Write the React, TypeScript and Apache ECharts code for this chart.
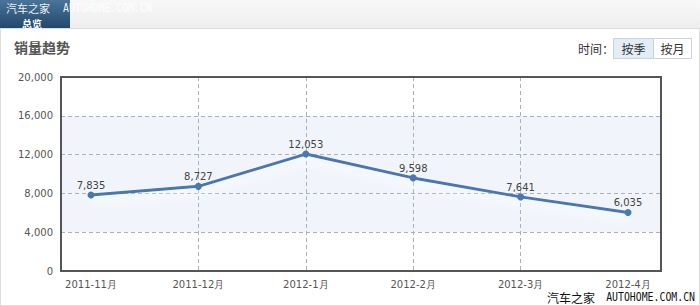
import React, { useEffect, useRef } from "react";
import * as echarts from "echarts";

const categories = ["2011-11月", "2011-12月", "2012-1月", "2012-2月", "2012-3月", "2012-4月"];
const sales = [7835, 8727, 12053, 9598, 7641, 6035];
const yMin = 0;
const yMax = 20000;
const yInterval = 4000;
const title = "销量趋势";
const tabText = "总览";
const watermarkCn = "汽车之家";
const watermarkEn = "AUTOHOME.COM.CN";
const timeLabel = "时间：";
const buttons = ["按季", "按月"];

const fmt = (v: number) => v.toLocaleString("en-US");
const LABEL_FONT = "'DejaVu Sans', Verdana, sans-serif";
const CJK = "'Noto Sans CJK SC', sans-serif";
const MONO = "'DejaVu Sans Mono', 'Liberation Mono', monospace";

export default function App() {
  const ref = useRef<HTMLDivElement>(null);
  useEffect(() => {
    const chart = echarts.init(ref.current!, null, { renderer: "svg" });
    const dashed = { color: "#a7b1c0", type: [4, 3], width: 1 };
    chart.setOption({
      animation: false,
      backgroundColor: "#ffffff",
      grid: [
        { left: 61, top: 77, width: 600, height: 194, show: true, borderWidth: 0, backgroundColor: "#ffffff" },
        { left: 91, top: 77, width: 537, height: 194 },
      ],
      xAxis: [
        { gridIndex: 0, type: "value", show: false, min: 0, max: 1 },
        {
          gridIndex: 1,
          type: "category",
          data: categories,
          boundaryGap: false,
          axisLine: { show: false },
          axisTick: { show: false },
          axisLabel: { color: "#555", fontSize: 10, fontFamily: LABEL_FONT, margin: 8 },
          splitLine: { show: true, showMinLine: false, showMaxLine: false, lineStyle: dashed },
        },
      ],
      yAxis: [
        {
          gridIndex: 0,
          type: "value",
          min: yMin,
          max: yMax,
          interval: yInterval,
          axisLine: { show: false },
          axisTick: { show: false },
          axisLabel: { color: "#555", fontSize: 10, fontFamily: LABEL_FONT, margin: 8, formatter: (v: number) => fmt(v) },
          splitLine: { show: true, showMinLine: false, showMaxLine: false, lineStyle: dashed },
          splitArea: {
            show: true,
            areaStyle: { color: ["#ffffff", "#f1f5fb", "#f1f5fb", "#f1f5fb", "#ffffff"] },
          },
        },
        { gridIndex: 1, type: "value", min: yMin, max: yMax, show: false },
      ],
      series: [
        {
          type: "line",
          xAxisIndex: 1,
          yAxisIndex: 1,
          data: sales,
          symbol: "circle",
          symbolSize: 7,
          itemStyle: { color: "#4a77b0" },
          lineStyle: {
            color: "#4a77b0",
            width: 3,
            shadowColor: "rgba(255,255,255,0.95)",
            shadowBlur: 10,
            shadowOffsetY: 6,
          },
          label: {
            show: true,
            position: "top",
            distance: 1,
            color: "#444",
            fontSize: 10,
            fontFamily: LABEL_FONT,
            formatter: (p: any) => fmt(p.value),
          },
          z: 5,
        },
      ],
      graphic: [
        { type: "rect", shape: { x: 0.5, y: 0.5, width: 699, height: 305 }, style: { fill: "none", stroke: "#dddddd", lineWidth: 1 }, z: 0 },
        { type: "rect", shape: { x: 61, y: 77, width: 600, height: 194 }, style: { fill: "none", stroke: "#555555", lineWidth: 2 }, z: 10 },
        {
          type: "rect",
          shape: { x: 0, y: 0, width: 700, height: 28 },
          style: {
            fill: new echarts.graphic.LinearGradient(0, 0, 0, 1, [
              { offset: 0, color: "#f8f8f8" },
              { offset: 1, color: "#eeeeee" },
            ]),
          },
          z: 1,
        },
        { type: "line", shape: { x1: 0, y1: 28.5, x2: 700, y2: 28.5 }, style: { stroke: "#dcdcdc", lineWidth: 1 }, z: 2 },
        {
          type: "rect",
          shape: { x: 0, y: 0, width: 70, height: 28 },
          style: {
            fill: new echarts.graphic.LinearGradient(0, 0, 0, 1, [
              { offset: 0, color: "#4a7499" },
              { offset: 1, color: "#23486b" },
            ]),
          },
          z: 2,
        },
        { type: "text", x: 22, y: 23, style: { text: tabText, fill: "#ffffff", font: `bold 10px ${CJK}`, verticalAlign: "middle" }, z: 3 },
        { type: "text", x: 6, y: 8, style: { text: watermarkCn, fill: "rgba(255,255,255,0.92)", font: `11px ${CJK}`, verticalAlign: "middle" }, z: 4 },
        { type: "text", x: 63, y: 8, scaleX: 0.82, style: { text: watermarkEn, fill: "rgba(255,255,255,0.95)", font: `12px ${MONO}`, verticalAlign: "middle" }, z: 4 },
        { type: "text", x: 14, y: 47, style: { text: title, fill: "#555555", font: `bold 14px ${CJK}`, verticalAlign: "middle" }, z: 3 },
        { type: "text", x: 578, y: 48, style: { text: timeLabel, fill: "#333333", font: `12px ${CJK}`, verticalAlign: "middle" }, z: 3 },
        { type: "rect", shape: { x: 613.5, y: 38.5, width: 40, height: 20 }, style: { fill: "#e2edf8", stroke: "#c9d2dd", lineWidth: 1 }, z: 3 },
        { type: "rect", shape: { x: 653.5, y: 38.5, width: 38, height: 20 }, style: { fill: "#ffffff", stroke: "#c9d2dd", lineWidth: 1 }, z: 3 },
        { type: "text", x: 633.5, y: 48.5, style: { text: buttons[0], fill: "#333333", font: `12px ${CJK}`, align: "center", verticalAlign: "middle" }, z: 4 },
        { type: "text", x: 672.5, y: 48.5, style: { text: buttons[1], fill: "#333333", font: `12px ${CJK}`, align: "center", verticalAlign: "middle" }, z: 4 },
        { type: "text", x: 595, y: 297, style: { text: watermarkCn, fill: "#111111", font: `12px ${CJK}`, align: "right", verticalAlign: "middle" }, z: 4 },
        { type: "text", x: 695, y: 297, scaleX: 0.82, originX: 0, style: { text: watermarkEn, fill: "#111111", font: `12px ${MONO}`, align: "right", verticalAlign: "middle" }, z: 4 },
      ],
    });
    return () => chart.dispose();
  }, []);
  return <div ref={ref} style={{ position: "fixed", left: 0, top: 0, width: 700, height: 306 }} />;
}
